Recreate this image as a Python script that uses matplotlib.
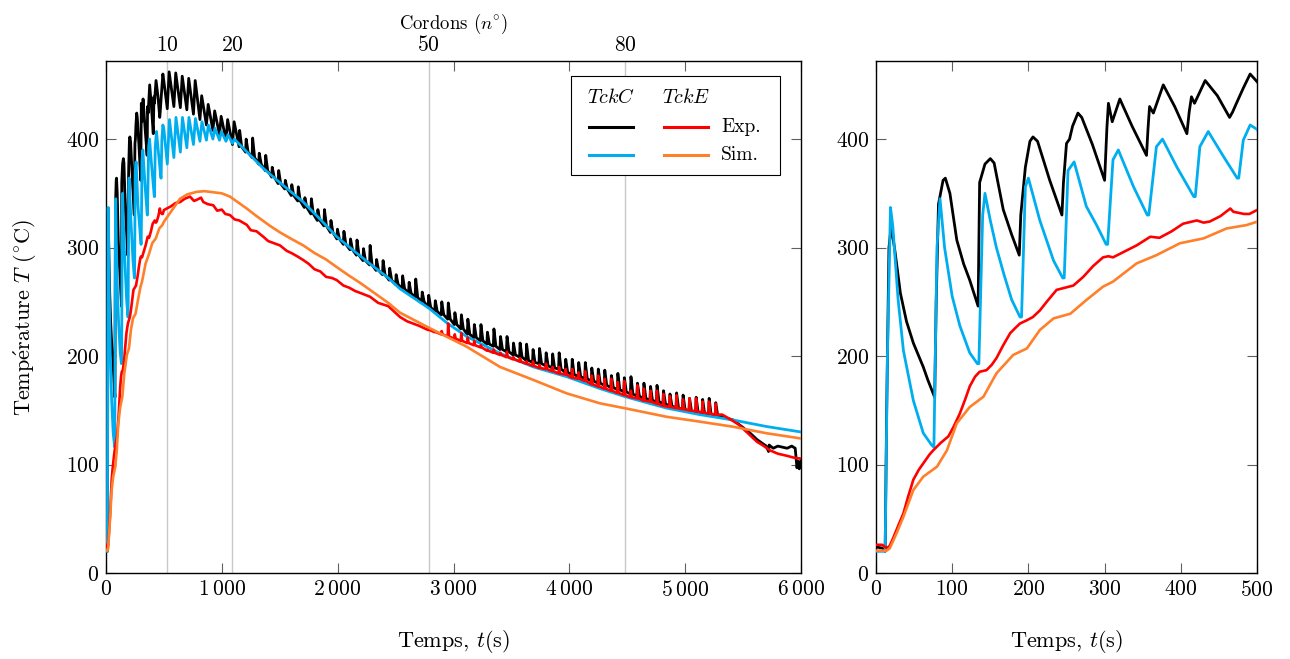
import numpy as np
import matplotlib
matplotlib.use("Agg")
import matplotlib.pyplot as plt
from matplotlib.patches import Rectangle

plt.rcParams["font.family"] = ["cmr10", "DejaVu Serif"]
plt.rcParams["mathtext.fontset"] = "cm"
plt.rcParams["axes.formatter.use_mathtext"] = True

# TckC experimental: cordons 1-20 read point by point (t in s, T in degC)
tckc_exp_t = [0, 8, 12, 14, 17, 20, 25, 32, 40, 49,
              62, 68, 77, 79, 82, 88, 91, 97, 106, 115,
              123, 134, 136, 143, 150, 155, 167, 178, 188, 190,
              196, 202, 206, 212, 228, 244, 246, 250, 254, 258,
              265, 270, 284, 300, 303, 305, 310, 320, 336, 355,
              357, 359, 364, 377, 392, 408, 411, 414, 418, 432,
              448, 464, 468, 473, 482, 491, 500, 515, 529, 545,
              586, 602, 642, 658, 698, 714, 755, 770, 811, 826,
              867, 882, 923, 938, 980, 994, 1036, 1050, 1092, 1106]
tckc_exp_T = [24, 23, 20, 150, 300, 320, 296, 258, 232, 212,
              190, 178, 162, 250, 340, 362, 364, 350, 307, 285,
              270, 246, 360, 377, 382, 378, 335, 312, 293, 330,
              374, 398, 402, 398, 362, 330, 360, 396, 400, 412,
              424, 420, 395, 362, 410, 433, 416, 437, 412, 385,
              410, 430, 424, 450, 430, 405, 425, 439, 433, 454,
              440, 420, 425, 433, 447, 460, 453, 440, 428, 462,
              430, 461, 429, 458, 427, 456, 423, 454, 418, 440,
              413, 432, 408, 426, 404, 421, 399, 418, 395, 416]

# start time of cordons 21 to 94
cordon_t = [1149, 1205, 1261, 1318, 1374, 1430, 1486, 1543, 1599, 1655,
            1712, 1768, 1824, 1881, 1937, 1993, 2049, 2106, 2162, 2218,
            2275, 2331, 2387, 2444, 2500, 2556, 2612, 2669, 2725, 2781,
            2838, 2894, 2950, 3007, 3063, 3119, 3175, 3232, 3288, 3344,
            3401, 3457, 3513, 3570, 3626, 3682, 3738, 3795, 3851, 3907,
            3964, 4020, 4076, 4133, 4189, 4245, 4301, 4358, 4414, 4470,
            4527, 4583, 4639, 4696, 4752, 4808, 4864, 4921, 4977, 5033,
            5090, 5146, 5202, 5259]

# TckC experimental, cordons 21-94: base temperature and spike height
tckc_exp_base = [393, 388, 383, 377, 371, 365, 359, 354, 348, 343,
                 337, 331, 325, 320, 314, 308, 303, 298, 293, 288,
                 284, 279, 275, 270, 266, 262, 258, 254, 250, 245,
                 241, 238, 234, 229, 225, 220, 217, 214, 211, 209,
                 206, 204, 201, 199, 196, 194, 193, 191, 189, 188,
                 185, 183, 181, 179, 177, 175, 173, 171, 169, 167,
                 165, 163, 161, 159, 158, 156, 154, 152, 151, 149,
                 148, 147, 146, 145]
tckc_exp_spike = [15, 12, 18, 10, 14, 9, 12, 8, 10, 13,
                  9, 14, 10, 15, 11, 9, 12, 10, 14, 11,
                  18, 10, 13, 11, 9, 12, 10, 17, 9, 11,
                  10, 12, 15, 11, 13, 14, 12, 15, 11, 16,
                  12, 14, 11, 13, 15, 12, 14, 12, 13, 15,
                  12, 14, 13, 15, 12, 13, 14, 11, 15, 13,
                  16, 12, 14, 13, 15, 12, 11, 14, 13, 12,
                  14, 13, 15, 12]

# TckC experimental after the last cordon
tckc_exp_tail_t = [5300, 5350, 5416, 5500, 5560, 5620, 5660, 5700, 5720, 5725,
                   5760, 5800, 5840, 5880, 5920, 5950, 5965, 5975, 5985, 6000]
tckc_exp_tail_T = [145, 143, 141, 134, 129, 123, 120, 117, 112, 118,
                   115, 117, 116, 115, 117, 115, 97, 103, 96, 104]

# TckC simulation
tckc_sim_t = [0, 12, 15, 19, 22, 29, 36, 49, 62, 73,
              76, 80, 84, 90, 100, 110, 123, 133, 135, 140,
              143, 150, 158, 168, 178, 189, 191, 196, 200, 215,
              233, 245, 247, 252, 260, 276, 290, 302, 304, 311,
              318, 338, 356, 358, 368, 376, 395, 417, 419, 425,
              436, 456, 474, 476, 482, 491, 500, 529, 548, 586,
              604, 642, 660, 698, 716, 755, 772, 811, 828, 867,
              884, 923, 940, 980, 996, 1036, 1052, 1092, 1108, 1200,
              1358, 1500, 1703, 1850, 1992, 2140, 2279, 2437, 2538, 2789,
              2950, 3114, 3401, 3689, 3977, 4265, 4484, 4840, 5128, 5416,
              5704, 6000]
tckc_sim_T = [20, 20, 200, 337, 320, 252, 205, 159, 129, 118,
              116, 300, 345, 300, 255, 228, 203, 193, 193, 330,
              350, 325, 300, 275, 252, 236, 236, 356, 364, 325,
              288, 272, 272, 371, 379, 338, 320, 303, 303, 381,
              390, 356, 330, 330, 393, 400, 374, 347, 347, 393,
              407, 384, 364, 364, 399, 413, 409, 377, 418, 383,
              420, 388, 420, 392, 420, 395, 419, 398, 416, 399,
              413, 400, 410, 399, 407, 398, 404, 396, 400, 390,
              373, 360, 342, 326, 310, 297, 285, 272, 262, 244,
              230, 218, 202.5, 190, 181, 170, 162.5, 152, 146, 141,
              135, 130]

# TckE experimental up to cordon 49
tcke_exp_t = [0, 8, 14, 18, 23, 30, 36, 42, 49, 56,
              62, 70, 75, 85, 95, 102, 110, 117, 123, 130,
              136, 145, 152, 158, 167, 176, 183, 189, 198, 206,
              215, 224, 237, 248, 259, 272, 285, 298, 305, 311,
              325, 342, 360, 372, 388, 403, 421, 430, 438, 452,
              465, 469, 483, 490, 500, 560, 600, 640, 680, 725,
              760, 783, 820, 840, 880, 926, 960, 1000, 1030, 1070,
              1110, 1150, 1215, 1250, 1300, 1358, 1400, 1450, 1502, 1560,
              1600, 1650, 1703, 1750, 1800, 1850, 1900, 1950, 1992, 2050,
              2100, 2150, 2200, 2279, 2350, 2437, 2538, 2600, 2700]
tcke_exp_T = [26, 26, 23, 25, 33, 45, 55, 70, 86, 95,
              101, 109, 113, 120, 126, 135, 147, 160, 172, 181,
              185.5, 187, 192, 198, 210, 221, 226, 230, 233, 236,
              242, 250, 261, 263, 265, 273, 283, 291, 292, 291,
              296, 302, 310, 309, 315, 322, 325, 323, 324, 329,
              336, 333, 331, 331, 334.6, 338, 341, 342, 345, 347,
              343, 344, 346, 342, 340, 339, 334, 335, 331, 330,
              326, 325, 321, 316, 315, 310, 306, 304, 302, 297,
              295, 292, 288.5, 285, 280, 278, 273, 272, 270, 265,
              263, 260, 258, 254.7, 249, 246, 236, 232, 228]

# TckE experimental, cordons 50-94: base and spike height
tcke_exp_base = [224, 222, 220, 218, 216, 214, 212, 210, 208, 205,
                 203, 201, 199, 197, 195, 193, 191, 189, 188, 186,
                 184, 183, 180, 179, 177, 174, 172, 170, 168, 166,
                 164, 162, 161, 159, 158, 156, 154, 153, 152, 151,
                 150, 149, 148, 147, 146]
tcke_exp_spike = [2, 1, 3, 12, 4, 7, 5, 4, 2, 1,
                  3, 2, 5, 2, 3, 2, 4, 3, 5, 4,
                  6, 5, 8, 6, 9, 8, 10, 9, 11, 10,
                  13, 6, 12, 11, 10, 12, 11, 10, 12, 9,
                  11, 12, 10, 11, 10]

tcke_exp_tail_t = [5320, 5400, 5460, 5520, 5560, 5620, 5680, 5733, 5800, 5880, 5950, 6000]
tcke_exp_tail_T = [146, 141, 137, 131, 127, 121, 117, 113, 110, 108, 106, 105.5]

# TckE simulation
tcke_sim_t = [0, 14, 18, 27, 36, 49, 62, 80, 93, 106,
              123, 141, 158, 180, 198, 215, 233, 255, 276, 298,
              311, 342, 368, 399, 430, 460, 486, 500, 560, 639,
              700, 783, 850, 926, 1000, 1070, 1215, 1300, 1416, 1502,
              1600, 1703, 1800, 1900, 1992, 2100, 2200, 2279, 2437, 2538,
              2789, 3114, 3401, 3689, 3977, 4265, 4484, 4840, 5128, 5416,
              5704, 6000]
tcke_sim_T = [20.6, 20.6, 22.7, 36.6, 51.9, 76.5, 88.8, 98, 113, 138,
              153, 162.5, 184, 201, 207, 224, 234.7, 239, 251.6, 264,
              268.6, 285.4, 293, 304, 308.5, 317.6, 320.7, 323.8, 333, 345,
              349, 351.4, 352, 351, 350, 347, 336, 329, 320, 314,
              308, 302, 295, 289, 282, 274, 267, 261, 249, 240,
              226, 208.6, 190, 178, 165.6, 156.4, 151.8, 144, 139.5, 134.8,
              128.8, 124]

# top axis: cordon numbers and where they fall in time
cordon_ticks = [10, 20, 50, 80]
cordon_ticks_t = [530, 1091, 2787, 4482]


def add_spikes(t_list, T_list, starts, base, spike, rise, width):
    # one narrow peak per cordon on top of its base temperature
    t_out, T_out = list(t_list), list(T_list)
    for t0, b, s in zip(starts, base, spike):
        t_out += [t0, t0 + rise, t0 + width]
        T_out += [b, b + s, b]
    return t_out, T_out


black_t, black_T = add_spikes(tckc_exp_t, tckc_exp_T, cordon_t, tckc_exp_base, tckc_exp_spike, 5, 22)
black_t += tckc_exp_tail_t
black_T += tckc_exp_tail_T

red_t, red_T = add_spikes(tcke_exp_t, tcke_exp_T, cordon_t[29:], tcke_exp_base, tcke_exp_spike, 4, 12)
red_t += tcke_exp_tail_t
red_T += tcke_exp_tail_T

c_black = "#000000"
c_blue = "#00AEEF"
c_red = "#FF0000"
c_orange = "#FF7F2A"

fs = 15.5

fig = plt.figure(figsize=(12.9, 6.59), dpi=100)
ax1 = fig.add_axes([106 / 1290, 86 / 659, 695 / 1290, 512 / 659])
ax2 = fig.add_axes([876 / 1290, 86 / 659, 381 / 1290, 512 / 659])

for ax in (ax1, ax2):
    ax.plot(black_t, black_T, color=c_black, lw=2.0, zorder=3)
    ax.plot(tckc_sim_t, tckc_sim_T, color=c_blue, lw=2.0, zorder=4)
    ax.plot(red_t, red_T, color=c_red, lw=1.9, zorder=5)
    ax.plot(tcke_sim_t, tcke_sim_T, color=c_orange, lw=1.9, zorder=6)
    ax.set_ylim(0, 472)
    ax.set_yticks([0, 100, 200, 300, 400])
    ax.set_yticklabels(["$0$", "$100$", "$200$", "$300$", "$400$"])
    ax.tick_params(direction="in", length=7, width=0.8, color="#606060",
                   top=True, right=True, labelsize=fs, pad=5)
    for sp in ax.spines.values():
        sp.set_linewidth(1.0)
    ax.set_xlabel("Temps, $t$(s)", fontsize=fs + 0.5, labelpad=20)

# left panel
ax1.set_xlim(0, 6000)
ax1.set_xticks([0, 1000, 2000, 3000, 4000, 5000, 6000])
ax1.set_xticklabels(["$0$", r"$1\:000$", r"$2\:000$", r"$3\:000$",
                     r"$4\:000$", r"$5\:000$", r"$6\:000$"])
ax1.set_ylabel(r"Temp$\acute{\rm e}$rature $T$ ($^{\circ}$C)", fontsize=fs + 0.5, labelpad=19)
for tc in cordon_ticks_t:
    ax1.axvline(tc, color="#c8c8c8", lw=1.0, zorder=1)

sec = ax1.secondary_xaxis("top")
sec.set_xticks(cordon_ticks_t)
sec.set_xticklabels(["$%d$" % c for c in cordon_ticks])
sec.tick_params(direction="in", length=0, labelsize=fs, pad=4)
sec.spines["top"].set_visible(False)
sec.set_xlabel(r"Cordons ($n^{\circ}$)", fontsize=13.5, labelpad=5)

# legend drawn in two columns (TckC / TckE) and two rows (Exp. / Sim.)
tr = ax1.transAxes
ax1.add_patch(Rectangle((0.669, 0.777), 0.301, 0.194, transform=tr, facecolor="white",
                        edgecolor="black", lw=0.8, zorder=10))
ax1.plot([0.695, 0.758], [0.872, 0.872], transform=tr, color=c_black, lw=2.2, zorder=11)
ax1.plot([0.695, 0.758], [0.816, 0.816], transform=tr, color=c_blue, lw=2.2, zorder=11)
ax1.plot([0.803, 0.866], [0.872, 0.872], transform=tr, color=c_red, lw=2.2, zorder=11)
ax1.plot([0.803, 0.866], [0.816, 0.816], transform=tr, color=c_orange, lw=2.2, zorder=11)
ax1.text(0.727, 0.928, "$TckC$", transform=tr, ha="center", va="center", fontsize=14.5, zorder=11)
ax1.text(0.835, 0.928, "$TckE$", transform=tr, ha="center", va="center", fontsize=14.5, zorder=11)
ax1.text(0.885, 0.872, "Exp.", transform=tr, ha="left", va="center", fontsize=14, zorder=11)
ax1.text(0.885, 0.816, "Sim.", transform=tr, ha="left", va="center", fontsize=14, zorder=11)

# right panel: first 500 s
ax2.set_xlim(0, 500)
ax2.set_xticks([0, 100, 200, 300, 400, 500])
ax2.set_xticklabels(["$0$", "$100$", "$200$", "$300$", "$400$", "$500$"])

fig.savefig("out.png", dpi=100)
